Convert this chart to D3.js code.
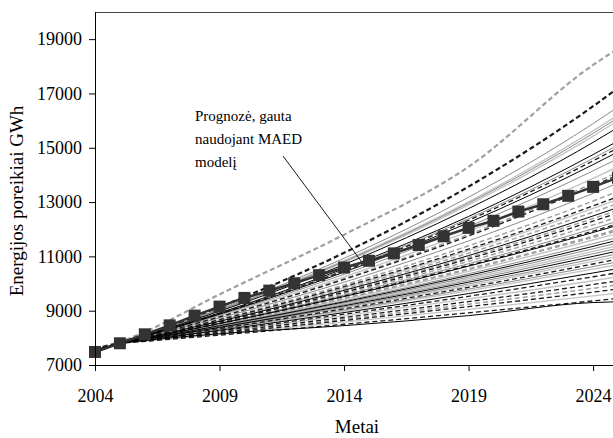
<!DOCTYPE html>
<html>
<head>
<meta charset="utf-8">
<script src="https://cdn.jsdelivr.net/npm/d3@7"></script>
<style>
  body { margin: 0; background: #fff; }
  svg { display: block; }
  text { font-family: "Liberation Serif", "Times New Roman", serif; fill: #000; }
</style>
</head>
<body>
<svg id="chart" width="613" height="438"></svg>
<script>
// Years at which each scenario curve is given
const knotYears = [2004, 2005, 2006, 2009, 2014, 2019, 2024, 2025];

// Scenario curves, grouped by line style (GWh at knotYears)
const blackSolid = [
  [7550, 7800, 8080, 8980, 10700, 12760, 15200, 15750],
  [7540, 7800, 8065, 8920, 10550, 12470, 14750, 15250],
  [7530, 7800, 8055, 8870, 10420, 12240, 14380, 14850],
  [7490, 7800, 7995, 8610, 9750, 11030, 12490, 12800],
  [7480, 7800, 7975, 8525, 9520, 10640, 11880, 12150],
  [7470, 7800, 7955, 8445, 9325, 10300, 11370, 11600],
  [7460, 7800, 7945, 8385, 9180, 10050, 11000, 11200],
  [7450, 7790, 7910, 8280, 8930, 9630, 10390, 10550],
  [7450, 7780, 7900, 8150, 8450, 8820, 9300, 9330]
];
const blackDashed = [
  [7600, 7820, 8115, 9140, 11130, 13570, 16530, 17200],
  [7530, 7800, 8060, 8890, 10470, 12330, 14520, 15000],
  [7510, 7800, 8030, 8770, 10150, 11750, 13600, 14000],
  [7500, 7800, 8010, 8665, 9885, 11270, 12860, 13200],
  [7490, 7800, 7990, 8585, 9680, 10910, 12300, 12600],
  [7480, 7800, 7975, 8530, 9540, 10670, 11930, 12200],
  [7460, 7800, 7930, 8340, 9070, 9860, 10720, 10900],
  [7450, 7790, 7905, 8255, 8870, 9530, 10250, 10400],
  [7450, 7790, 7895, 8205, 8750, 9335, 9965, 10100],
  [7450, 7790, 7885, 8160, 8640, 9150, 9685, 9800],
  [7450, 7790, 7870, 8100, 8500, 8920, 9360, 9450]
];
const greySolid = [
  [7580, 7810, 8100, 9060, 10930, 13180, 15890, 16500],
  [7560, 7800, 8090, 9020, 10810, 12960, 15530, 16100],
  [7540, 7800, 8060, 8900, 10500, 12390, 14610, 15100],
  [7520, 7800, 8050, 8840, 10340, 12100, 14150, 14600],
  [7500, 7800, 8025, 8730, 10050, 11570, 13320, 13700],
  [7480, 7800, 7980, 8545, 9575, 10730, 12020, 12300],
  [7470, 7800, 7960, 8460, 9360, 10360, 11465, 11700],
  [7470, 7800, 7950, 8430, 9290, 10235, 11280, 11500],
  [7460, 7800, 7945, 8400, 9215, 10110, 11095, 11300],
  [7460, 7800, 7940, 8370, 9140, 9985, 10905, 11100],
  [7460, 7800, 7930, 8325, 9030, 9795, 10625, 10800]
];
const greyDashed = [
  [7620, 7850, 8220, 9600, 11800, 14300, 18050, 18650],
  [7510, 7800, 8035, 8780, 10180, 11810, 13690, 14100],
  [7500, 7800, 8015, 8690, 9950, 11390, 13040, 13400],
  [7490, 7800, 8000, 8630, 9800, 11120, 12630, 12950],
  [7490, 7800, 7995, 8600, 9715, 10970, 12395, 12700],
  [7480, 7800, 7985, 8565, 9625, 10820, 12160, 12450],
  [7480, 7800, 7970, 8500, 9470, 10545, 11745, 12000],
  [7470, 7800, 7970, 8495, 9450, 10515, 11700, 11950],
  [7450, 7790, 7890, 8180, 8690, 9240, 9825, 9950]
];
const lightSolid = [
  [7570, 7800, 8090, 9030, 10840, 13010, 15620, 16200],
  [7560, 7800, 8085, 9005, 10780, 12900, 15430, 16000],
  [7520, 7800, 8040, 8805, 10245, 11920, 13870, 14300],
  [7500, 7800, 8005, 8650, 9850, 11210, 12770, 13100],
  [7470, 7800, 7965, 8480, 9415, 10450, 11605, 11850],
  [7470, 7800, 7950, 8415, 9250, 10175, 11185, 11400],
  [7460, 7800, 7935, 8355, 9105, 9920, 10815, 11000],
  [7460, 7800, 7925, 8310, 8990, 9730, 10530, 10700],
  [7450, 7790, 7900, 8230, 8810, 9435, 10105, 10250],
  [7450, 7790, 7880, 8135, 8580, 9050, 9545, 9650]
];

// MAED model forecast, one value per year
const maedYears = [2004, 2005, 2006, 2007, 2008, 2009, 2010, 2011, 2012, 2013, 2014,
                   2015, 2016, 2017, 2018, 2019, 2020, 2021, 2022, 2023, 2024, 2025];
const maedForecast = [7480, 7800, 8130, 8460, 8820, 9150, 9470, 9740, 10010, 10310, 10590,
                      10840, 11110, 11420, 11740, 12050, 12310, 12650, 12920, 13230, 13560, 13900];

const yTicks = [7000, 9000, 11000, 13000, 15000, 17000, 19000];
const xTicks = [2004, 2009, 2014, 2019, 2024];

(function draw() {
  const svg = d3.select("#chart");
  const pLeft = 95, pRight = 618, pTop = 12, pBottom = 365;
  const serif = "'Liberation Serif', 'Times New Roman', serif";

  const x = d3.scaleLinear().domain([2004, 2025]).range([pLeft, pRight]);
  const y = d3.scaleLinear().domain([7000, 20000]).range([pBottom, pTop]);

  const line = d3.line()
    .x((d, i) => x(knotYears[i]))
    .y(d => y(d))
    .curve(d3.curveMonotoneX);

  const styles = [
    { data: lightSolid,  stroke: "#c4c4c4", width: 1.4, dash: null, lead: 1.4 },
    { data: greySolid,   stroke: "#8a8a8a", width: 1,   dash: null, lead: 1 },
    { data: greyDashed,  stroke: "#a0a0a0", width: 1.5, dash: "5,3", lead: 2.2 },
    { data: blackDashed, stroke: "#1a1a1a", width: 1.3, dash: "5,3", lead: 2.2 },
    { data: blackSolid,  stroke: "#000",    width: 1,   dash: null, lead: 1 }
  ];

  const plot = svg.append("g");
  styles.forEach(s => {
    plot.append("g").selectAll("path")
      .data(s.data)
      .join("path")
      .attr("d", line)
      .attr("fill", "none")
      .attr("stroke", s.stroke)
      .attr("stroke-width", (d, i) => i === 0 ? s.lead : s.width)
      .attr("stroke-dasharray", s.dash);
  });

  // MAED forecast line with square markers
  const maedLine = d3.line()
    .x((d, i) => x(maedYears[i]))
    .y(d => y(d));
  plot.append("path")
    .attr("d", maedLine(maedForecast))
    .attr("fill", "none")
    .attr("stroke", "#333")
    .attr("stroke-width", 2.5);
  plot.append("g").selectAll("rect")
    .data(maedForecast)
    .join("rect")
    .attr("x", (d, i) => x(maedYears[i]) - 6)
    .attr("y", d => y(d) - 6)
    .attr("width", 12)
    .attr("height", 12)
    .attr("fill", "#333");

  // Frame: top border, left and bottom axis lines
  svg.append("line")
    .attr("x1", pLeft).attr("x2", pRight)
    .attr("y1", pTop + 0.5).attr("y2", pTop + 0.5)
    .attr("stroke", "#444").attr("stroke-width", 1);

  const yAxis = svg.append("g")
    .attr("transform", `translate(${pLeft},0)`)
    .call(d3.axisLeft(y).tickValues(yTicks).tickSize(6).tickPadding(7).tickFormat(d3.format("d")));
  yAxis.attr("font-family", serif);
  yAxis.select(".domain").attr("d", `M0.5,${pTop}V${pBottom}`).attr("stroke", "#000");
  yAxis.selectAll("text").attr("font-family", serif).style("font-size", "18px");

  const xAxis = svg.append("g")
    .attr("transform", `translate(0,${pBottom})`)
    .call(d3.axisBottom(x).tickValues(xTicks).tickSize(6).tickPadding(18).tickFormat(d3.format("d")));
  xAxis.attr("font-family", serif);
  xAxis.select(".domain").attr("d", `M${pLeft},0.5H${pRight}`).attr("stroke", "#000");
  xAxis.selectAll("text").attr("font-family", serif).style("font-size", "18px");

  // Axis titles
  svg.append("text")
    .attr("transform", "translate(23,201) rotate(-90)")
    .attr("text-anchor", "middle")
    .attr("font-family", serif)
    .style("font-size", "19px")
    .text("Energijos poreikiai GWh");
  svg.append("text")
    .attr("x", 357).attr("y", 433)
    .attr("text-anchor", "middle")
    .attr("font-family", serif)
    .style("font-size", "19px")
    .text("Metai");

  // Annotation with leader line
  const note = svg.append("text").attr("x", 195).attr("font-family", serif).style("font-size", "15px");
  ["Prognozė, gauta", "naudojant MAED", "modelį"].forEach((t, i) => {
    note.append("tspan").attr("x", 195).attr("y", 121 + i * 23).text(t);
  });
  svg.append("line")
    .attr("x1", 283).attr("y1", 156)
    .attr("x2", 361).attr("y2", 261)
    .attr("stroke", "#000").attr("stroke-width", 0.9);
})();
</script>
</body>
</html>
